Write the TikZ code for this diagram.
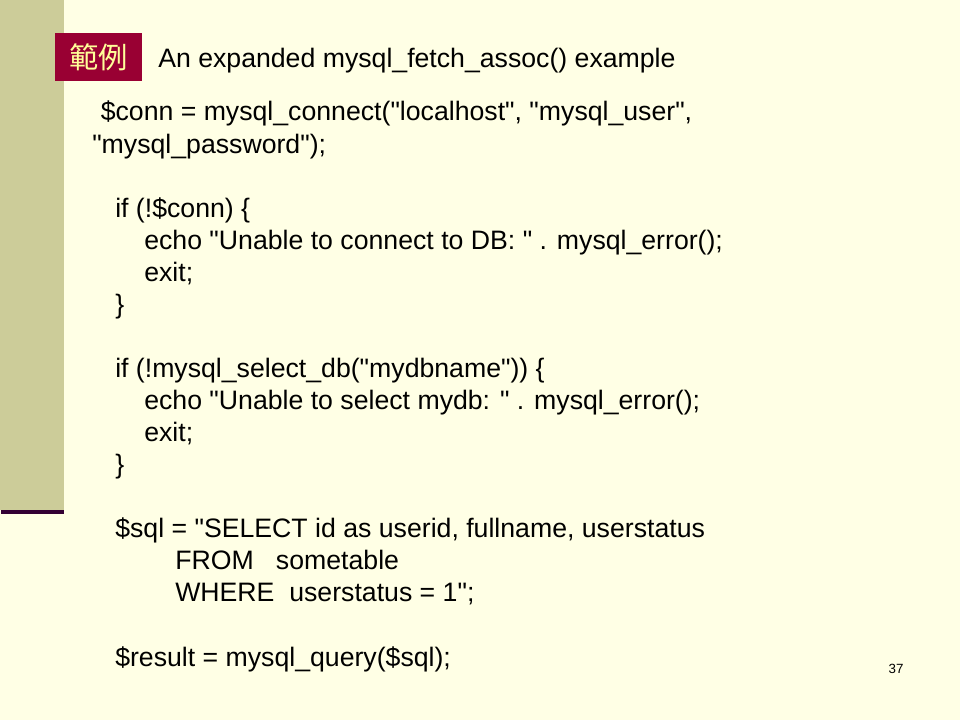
\documentclass[tikz,border=0pt]{standalone}
\usepackage{fontspec}
\setmainfont{Liberation Sans}
\newfontfamily\cjkfont{Noto Sans CJK TC}
\usepackage{tikz}
\usetikzlibrary{positioning}
\definecolor{slidebg}{HTML}{FFFFE5}
\definecolor{sidebar}{HTML}{CCCC99}
\definecolor{barline}{HTML}{330033}
\definecolor{tagred}{HTML}{990033}
\definecolor{tagtext}{HTML}{FFFF99}
\newcommand{\qq}{\textquotedbl}

\begin{document}
\begin{tikzpicture}[x=0.75pt,y=-0.75pt]
      \tikzstyle{cline} = [anchor=base west, inner sep=0pt, font=\fontsize{20pt}{24pt}\selectfont]
      \tikzstyle{tagnode} = [fill=tagred, text=tagtext, minimum width=65pt, minimum height=36pt, inner sep=0pt, font=\cjkfont\fontsize{22pt}{26pt}\selectfont]
      \tikzstyle{pnum} = [inner sep=0pt, font=\fontsize{10pt}{12pt}\selectfont]

      \useasboundingbox[fill=slidebg] (0,0) rectangle (960,720);
      \fill[sidebar] (0,0) rectangle (64,510);
      \fill[barline] (1,510) rectangle (64,514);

      \node[tagnode] (tag) at (98.5,57) {範例};
      \node[cline] (title) at (158,68) {An expanded mysql\_fetch\_assoc() example};

      \node[cline] (conn1) at (100.5,121) {\$conn = mysql\_connect(\qq localhost\qq, \qq mysql\_user\qq,};
      \node[cline] (conn2) at (92,153.1) {\qq mysql\_password\qq);};

      \node[cline] (if1) at (115,217.2) {if (!\$conn) \{};
      \node[cline] (echo1) at (144,249.2) {echo \qq Unable to connect to DB: \qq\ . mysql\_error();};
      \node[cline] (exit1) at (144,281.3) {exit;};
      \node[cline] (end1) at (115,313.4) {\}};

      \node[cline] (if2) at (115,377.5) {if (!mysql\_select\_db(\qq mydbname\qq)) \{};
      \node[cline] (echo2) at (144,409.5) {echo \qq Unable to select mydb: \qq\ . mysql\_error();};
      \node[cline] (exit2) at (144,441.6) {exit;};
      \node[cline] (end2) at (115,473.7) {\}};

      \node[cline] (sql1) at (115,537.8) {\$sql = \qq SELECT id as userid, fullname, userstatus};
      \node[cline] (sql2) at (175,569.8) {FROM\ \ \ sometable};
      \node[cline] (sql3) at (175,601.9) {WHERE\ \ userstatus = 1\qq;};

      \node[cline] (query) at (115,666) {\$result = mysql\_query(\$sql);};

      \node[pnum] (page) at (896,669) {37};
\end{tikzpicture}
\end{document}
